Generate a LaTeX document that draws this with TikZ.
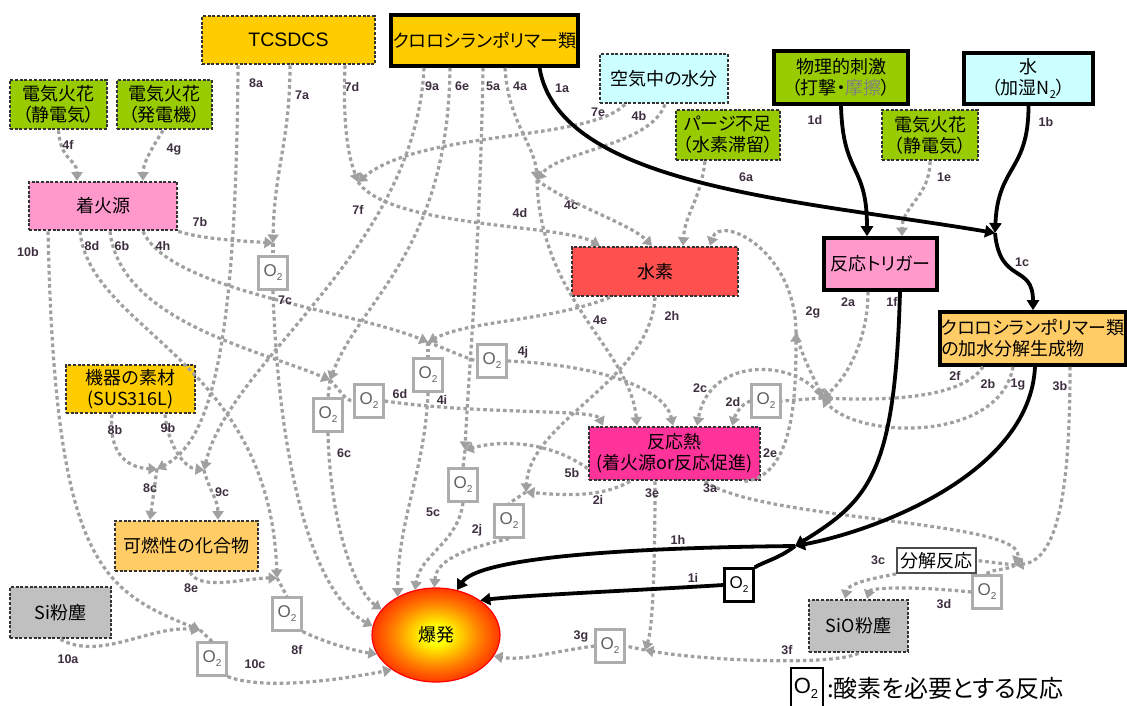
\documentclass[tikz,border=0pt]{standalone}
\usepackage{fontspec}
\setmainfont{Noto Sans CJK JP}[RawFeature={+palt}]
\newfontfamily\labf{Liberation Sans}
\usetikzlibrary{arrows.meta,shapes.geometric}
\definecolor{cyel}{HTML}{FFCC00}
\definecolor{cgrn}{HTML}{99CC00}
\definecolor{ccyan}{HTML}{CCFFFF}
\definecolor{cpink}{HTML}{FF99CC}
\definecolor{cred}{HTML}{FF5050}
\definecolor{corg}{HTML}{FFCC66}
\definecolor{cmag}{HTML}{FF3399}
\definecolor{cgry}{HTML}{C0C0C0}
\definecolor{lgray}{HTML}{A0A0A0}
\definecolor{labc}{HTML}{3E2F40}
\pgfdeclareradialshading{boom}{\pgfpoint{0bp}{0bp}}{color(0bp)=(yellow!75!white); color(5bp)=(yellow); color(17bp)=(orange); color(29bp)=(red!85!orange); color(40bp)=(red); color(50bp)=(red)}
\newcommand\bxf{\fontsize{18}{21}\selectfont}
\newcommand\Otw{O\raisebox{-0.45ex}{\fontsize{10}{10}\selectfont 2}}
\tikzset{
 every node/.style={inner sep=0pt, align=center},
 dbx/.style={draw=black!80, line width=2.7pt, dash pattern=on 3pt off 1.7pt, font=\bxf},
 tbx/.style={draw=black, line width=3.6pt, font=\bxf},
 obx/.style={draw=black!32, line width=2.2pt, fill=white, minimum width=29pt, minimum height=33pt, font=\labf\fontsize{17}{17}\selectfont, text=black!62},
 gl/.style={draw=lgray, line width=3.2pt, dash pattern=on 3.6pt off 3pt},
 ga/.style={gl, -{Triangle[width=11pt,length=8.5pt]}},
 bl/.style={draw=black, line width=3.8pt},
 ba/.style={bl, -{Triangle[width=12pt,length=10pt]}},
 lb/.style={font=\labf\bfseries\fontsize{12.5}{12.5}\selectfont, text=labc},
}
\begin{document}
\begin{tikzpicture}[x=1pt,y=-1pt]
\useasboundingbox[fill=white] (0,0) rectangle (1127,705);
% boxes
\node[dbx, fill=cyel, minimum width=173pt, minimum height=48pt] (tcs) at (288.5,40) {\labf\fontsize{19.5}{19.5}\selectfont TCSDCS};
\node[tbx, fill=cyel, minimum width=187pt, minimum height=51pt] (poly) at (484.5,40.5) {クロロシランポリマー類};
\node[dbx, fill=cgrn, minimum width=97pt, minimum height=49pt] (sparkA) at (58.5,104.5) {電気火花\\（静電気）};
\node[dbx, fill=cgrn, minimum width=95pt, minimum height=49pt] (sparkB) at (164.5,104.5) {電気火花\\（発電機）};
\node[dbx, fill=ccyan, minimum width=128pt, minimum height=49pt] (air) at (664,78.5) {空気中の水分};
\node[dbx, fill=cgrn, minimum width=104pt, minimum height=50pt] (purge) at (728,135) {パージ不足\\（水素滞留）};
\node[tbx, fill=cgrn, minimum width=134pt, minimum height=53pt] (phys) at (841,77.5) {物理的刺激\\（打撃・{\color{gray}摩擦}）};
\node[tbx, fill=ccyan, minimum width=129pt, minimum height=51pt] (water) at (1028.5,78.5) {水\\（加湿N\raisebox{-0.45ex}{\fontsize{11}{11}\selectfont 2}）};
\node[dbx, fill=cgrn, minimum width=96pt, minimum height=50pt] (sparkC) at (930,135) {電気火花\\（静電気）};
\node[dbx, fill=cpink, minimum width=148pt, minimum height=48pt] (ign) at (103,206) {着火源};
\node[tbx, fill=cpink, minimum width=113pt, minimum height=52pt] (trig) at (880.5,264) {反応トリガー};
\node[dbx, fill=cred, minimum width=166pt, minimum height=49pt] (h2) at (655,271.5) {水素};
\node[tbx, fill=corg, minimum width=186pt, minimum height=53pt, align=left] (hyd) at (1033,338.5) {クロロシランポリマー類\\の加水分解生成物};
\node[dbx, fill=cyel, minimum width=129pt, minimum height=48pt] (sus) at (130.5,389) {機器の素材\\(SUS316L)};
\node[dbx, fill=cmag, minimum width=171pt, minimum height=53pt] (heat) at (674.5,453.5) {反応熱\\(着火源or反応促進)};
\node[dbx, fill=corg, minimum width=143pt, minimum height=50pt] (comb) at (186.5,546) {可燃性の化合物};
\node[dbx, fill=cgry, minimum width=101pt, minimum height=51pt] (si) at (60.5,612.5) {Si粉塵};
\node[dbx, fill=cgry, minimum width=99pt, minimum height=52pt] (sio) at (858.5,626) {SiO粉塵};
\node[draw=black!70, line width=2pt, fill=white, minimum width=79pt, minimum height=25pt, font=\bxf] (decomp) at (936.5,560.5) {分解反応};
\node[ellipse, shading=boom, draw=red, line width=1.2pt, minimum width=128pt, minimum height=94pt, font=\bxf] (exp) at (436,635) {爆発};
% O2 boxes
\node[obx] (oA) at (273,273) {\Otw};
\node[obx] (oC) at (428,375) {\Otw};
\node[obx] (oD) at (492,361) {\Otw};
\node[obx] (oE) at (328,415) {\Otw};
\node[obx] (oF) at (369,401) {\Otw};
\node[obx] (oI) at (463,485) {\Otw};
\node[obx] (oJ) at (509,521) {\Otw};
\node[obx] (oK) at (766,401) {\Otw};
\node[obx] (oH) at (287,614) {\Otw};
\node[obx] (oG) at (212,659) {\Otw};
\node[obx] (oM) at (610,646) {\Otw};
\node[obx] (oN) at (987,592) {\Otw};
\node[obx, draw=black, text=black] (oB) at (739,585) {\Otw};
% junctions
\coordinate (J1c) at (995,233);
\coordinate (J1h) at (795,546);
\coordinate (J7b) at (273,243);
\coordinate (J7f) at (358,182);
\coordinate (J4) at (537,180);
\coordinate (J4e) at (428,342);
\coordinate (J6) at (330,380);
\coordinate (J5) at (465,450);
\coordinate (J2i) at (526,492);
\coordinate (J2) at (822,398);
\coordinate (J2g) at (796,333);
\coordinate (J8c) at (157,469);
\coordinate (J9) at (204,470);
\coordinate (J8f) at (277,578);
\coordinate (J10) at (200,630);
\coordinate (J3) at (1015,565);
\coordinate (J3g) at (645,650);
% gray connectors
\draw[ga] (sparkA.south) .. controls +(2,31) and +(0,-22) .. ([xshift=-26pt]ign.north);
\draw[ga] ([xshift=-1.5pt]sparkB.south) .. controls +(-13,21) and +(0,-17) .. ([xshift=40pt]ign.north);
\draw[ga] ([xshift=1.5pt]tcs.south) .. controls +(0,76) and +(1,-73) .. (J7b);
\draw[ga] ([xshift=-50.5pt]tcs.south) .. controls +(-2,266) and +(58,-29) .. (J8c);
\draw[ga] ([xshift=56.5pt]tcs.south) .. controls +(-3,76) and +(-6,-17) .. (J7f);
\draw[ga] (ign.south east) .. controls +(25,8) and +(-30,-2) .. (J7b);
\draw[ga] ([xshift=-39pt]air.south) .. controls +(-35,37) and +(62,-52) .. (J7f);
\draw[ga] (J7f) .. controls +(32,46) and +(-40,-22) .. ([xshift=-55pt]h2.north);
\draw[gl] (J7b) -- (oA.north);
\draw[ga] (oA.south) .. controls +(5,160) and +(-64,-35) .. (exp.172);
\draw[ga] ([xshift=20.5pt]poly.south) .. controls +(3,54) and +(-2,-35) .. (J4);
\draw[ga] ([xshift=1pt]air.south) .. controls +(-15,42) and +(23,-30) .. (J4);
\draw[ga] (J4) .. controls +(33,25) and +(-22,-22) .. ([xshift=-3pt]h2.north);
\draw[ga] (J4) .. controls +(3,120) and +(-7,-77) .. ([xshift=-37.5pt]heat.north);
\draw[ga] ([xshift=40pt]ign.south) .. controls +(27,60) and +(-78,-32) .. (J4e);
\draw[ga] ([xshift=-45pt]h2.south) .. controls +(-60,24) and +(42,-22) .. (J4e);
\draw[gl] (J4e) -- (oC.north);
\draw[gl] (J4e) .. controls +(20,8) and +(-10,-3) .. (oD.west);
\draw[ga] (oC.south) .. controls +(-3,78) and +(0,-77) .. (exp.135);
\draw[ga] (oD.east) .. controls +(93,4) and +(-8,-37) .. ([xshift=-1.5pt]heat.north);
\draw[ga] ([xshift=-34.5pt]poly.south) .. controls +(-2,184) and +(30,-80) .. (J6);
\draw[ga] ([xshift=7pt]ign.south) .. controls +(10,90) and +(-70,-30) .. (J6);
\draw[gl] (J6) -- (oE.north);
\draw[gl] (J6) .. controls +(10,10) and +(-8,0) .. (oF.west);
\draw[ga] (oE.south) .. controls +(2,88) and +(-28,-20) .. (exp.155);
\draw[ga] (oF.east) .. controls +(97,14) and +(-8,-17) .. ([xshift=-71.5pt]heat.north);
\draw[ga] ([xshift=-23pt]purge.south) .. controls +(-5,40) and +(2,-32) .. ([xshift=28pt]h2.north);
\draw[ga] ([xshift=-1.5pt]poly.south) .. controls +(-3,184) and +(3,-70) .. (J5);
\draw[ga] ([yshift=-15pt]heat.west) .. controls +(-39,-28) and +(35,-10) .. (J5);
\draw[gl] (J5) -- (oI.north);
\draw[ga] (oI.south) .. controls +(-5,40) and +(5,-35) .. (exp.115);
\draw[ga] (h2.south) .. controls +(-5,84) and +(4,-72) .. (J2i);
\draw[ga] ([xshift=-44.5pt]heat.south) .. controls +(-30,17) and +(34,3) .. (J2i);
\draw[gl] (J2i) -- (oJ.north);
\draw[ga] (oJ.south) .. controls +(-35,8) and +(2,-30) .. (exp.92);
\draw[ga] ([xshift=-12.5pt]trig.south) .. controls +(0,50) and +(23,-18) .. (J2);
\draw[ga] ([xshift=-20pt]hyd.south) .. controls +(-13,75) and +(38,42) .. (J2);
\draw[ga] ([xshift=-50pt]hyd.south) .. controls +(-23,35) and +(48,2) .. (J2);
\draw[gl] (J2) -- (oK.east);
\draw[ga] (oK.west) .. controls +(-10,3) and +(3,-10) .. ([xshift=57.5pt]heat.north);
\draw[ga] (J2) .. controls +(-22,-38) and +(13,-72) .. ([xshift=22.5pt]heat.north);
\draw[ga] ([xshift=70pt]heat.south) .. controls +(50,-5) and +(0,60) .. (J2g);
\draw[ga] (J2g) .. controls +(0,-83) and +(10,-32) .. ([xshift=55pt]h2.north);
\draw[ga] (J2g) .. controls +(8,30) and +(-5,-15) .. (J2);
\draw[ga] ([xshift=30.5pt]heat.south) .. controls +(55,40) and +(15,-45) .. (J3);
\draw[ga] ([xshift=37pt]hyd.south) .. controls +(0,115) and +(45,-5) .. (J3);
\draw[gl] (J3) -- (decomp.east);
\draw[gl] (J3) .. controls +(-5,5) and +(0,-5) .. (oN.north);
\draw[ga] (decomp.south west) .. controls +(-27,5) and +(3,-15) .. ([xshift=-13.5pt]sio.north);
\draw[ga] (oN.west) .. controls +(-70,-7) and +(3,-10) .. ([xshift=8.5pt]sio.north);
\draw[ga] ([xshift=-19.5pt]heat.south) .. controls +(0,100) and +(7,-20) .. (J3g);
\draw[ga] (sio.south) .. controls +(-28,13) and +(55,10) .. (J3g);
\draw[gl] (J3g) -- (oM.east);
\draw[ga] (oM.west) .. controls +(-40,5) and +(30,5) .. (exp.-20);
\draw[ga] (sparkC.south) .. controls +(0,35) and +(0,-30) .. ([xshift=21.5pt]trig.north);
\draw[ga] ([xshift=-60.5pt]poly.south) .. controls +(-9,184) and +(26,-110) .. (J9);
\draw[ga] ([xshift=-18.5pt]sus.south) .. controls +(-4,42) and +(-27,-1) .. (J8c);
\draw[ga] ([xshift=34.5pt]sus.south) .. controls +(3,32) and +(-19,-2) .. (J9);
\draw[ga] (J8c) -- ([xshift=-36.5pt]comb.north);
\draw[ga] (J9) .. controls +(5,20) and +(0,-20) .. ([xshift=31.5pt]comb.north);
\draw[ga] ([xshift=-23pt]ign.south) .. controls +(10,100) and +(-7,-218) .. (J8f);
\draw[ga] ([xshift=3.5pt]comb.south) .. controls +(10,19) and +(-32,0) .. (J8f);
\draw[gl] (J8f) -- (oH.north);
\draw[ga] (oH.south east) .. controls +(25,12) and +(-20,-3) .. (exp.198);
\draw[ga] ([xshift=-55pt]ign.south) .. controls +(7,330) and +(-100,-40) .. (J10);
\draw[ga] (si.south) .. controls +(40,22) and +(-50,-5) .. (J10);
\draw[gl] (J10) -- (oG.north);
\draw[ga] (oG.south east) .. controls +(40,15) and +(-40,8) .. (exp.218);
% black connectors
\draw[ba] ([xshift=55pt]poly.south) .. controls +(20,119) and +(-195,-33) .. (J1c);
\draw[ba] (water.south) .. controls +(0,66) and +(3,-68) .. (J1c);
\draw[ba] (J1c) .. controls +(5,52) and +(0,-47) .. (hyd.north);
\draw[ba] (phys.south) .. controls +(2,71) and +(0,-73) .. ([xshift=-13.5pt]trig.north);
\draw[ba] ([xshift=19.5pt]trig.south) .. controls +(-5,180) and +(75,-46) .. (J1h);
\draw[ba] ([xshift=2pt]hyd.south) .. controls +(-5,105) and +(85,-16) .. (J1h);
\draw[ba] (J1h) .. controls +(-195,2) and +(20,-30) .. (exp.65);
\draw[bl] (J1h) .. controls +(-15,12) and +(10,-6) .. (oB.north east);
\draw[ba] (oB.west) .. controls +(-80,5) and +(40,-5) .. (exp.38);
% labels
\foreach \n/\x/\y in {8a/256/83, 7a/302/95, 7d/352/87, 9a/432/86, 6e/462/86, 5a/493/86, 4a/520/86, 1a/562/88, 7e/598/112, 4b/639/116, 1d/815/120, 1b/1046/122, 1e/944/177, 6a/746/177, 4f/68/145, 4g/174/150, 7f/358/210, 4d/520/213, 4c/571/205, 7b/200/222, 10b/28/252, 8d/92/246, 6b/122/246, 4h/163/246, 1c/1022/262, 7c/285/300, 4e/600/320, 2h/672/316, 2a/848/302, 1f/892/302, 2g/813/312, 4j/523/352, 4i/442/400, 6d/400/394, 2c/700/388, 2d/733/402, 2f/955/376, 2b/988/384, 1g/1018/385, 3b/1060/386, 8b/115/430, 9b/168/428, 2e/770/453, 6c/344/453, 8c/150/488, 9c/222/492, 5b/572/473, 2i/598/500, 3e/652/493, 3a/710/488, 5c/433/512, 2j/477/530, 1h/678/540, 1i/693/578, 3c/878/560, 8e/191/588, 3d/944/604, 3g/581/636, 10a/68/659, 10c/255/664, 8f/297/650, 3f/787/650}
  \node[lb] (l\n) at (\x,\y) {\n};
% legend
\node[draw=black, line width=1.5pt, minimum width=32pt, minimum height=46pt, anchor=north west] (lego) at (790,667) {};
\node[font=\labf\fontsize{22}{22}\selectfont] (legO) at (806,688) {O\raisebox{-0.45ex}{\fontsize{13}{13}\selectfont 2}};
\node[anchor=west, font=\fontsize{24}{24}\selectfont] (legt) at (827,688) {:酸素を必要とする反応};
\end{tikzpicture}
\end{document}
